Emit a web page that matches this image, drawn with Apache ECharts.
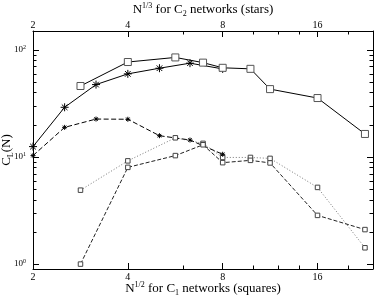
<!DOCTYPE html>
<html>
<head>
<meta charset="utf-8">
<script src="https://cdn.jsdelivr.net/npm/echarts@6/dist/echarts.min.js"></script>
<style>html,body{margin:0;padding:0;background:#fff}#c{width:374px;height:301px}</style>
</head>
<body>
<div id="c"></div>
<script>
// ---- data ----
const squareX = [2.83, 4, 5.66, 6.93, 8, 9.8, 11.31, 16, 22.63];
const squareUpper = [46, 77, 85, 76, 68, 66.5, 43, 35.5, 16.4];
const squareDashed = [1.0, 8.0, 10.3, 13.0, 8.85, 9.3, 8.8, 2.85, 2.1];
const squareDotted = [4.9, 9.2, 15.1, 13.4, 9.9, 9.9, 9.7, 5.2, 1.42];
const starX = [2, 2.52, 3.17, 4, 5.04, 6.3, 8];
const starUpper = [12.5, 29.1, 47.4, 59.7, 67.4, 75.1, 66.4];
const starLower = [10.3, 18.9, 22.6, 22.5, 15.8, 14.4, 10.6];
const xMin = 2, xMax = 24, yMin = 0.9, yMax = 150;
const xMinorTicks = [6, 10, 12, 14, 20];
const yMinorTicks = [2, 3, 4, 5, 6, 7, 8, 9, 20, 30, 40, 50, 60, 70, 80, 90];
const bottomTitle = ['N', '1/2', ' for C', '1', ' networks (squares)'];
const topTitle = ['N', '1/3', ' for C', '2', ' networks (stars)'];
const yTitle = ['C', 'L', '(N)'];

const FONT = 'Liberation Serif';
const chart = echarts.init(document.getElementById('c'), null, {renderer: 'canvas'});

const titleRich = {
  n: {fontFamily: FONT, fontSize: 13, lineHeight: 16, color: '#000', verticalAlign: 'middle'},
  sup: {fontFamily: FONT, fontSize: 8, lineHeight: 10, color: '#000', verticalAlign: 'top'},
  sub: {fontFamily: FONT, fontSize: 8, lineHeight: 10, color: '#000', verticalAlign: 'bottom'}
};
function mathName(p) {
  return '{n|' + p[0] + '}{sup|' + p[1] + '}{n|' + p[2] + '}{sub|' + p[3] + '}{n|' + p[4] + '}';
}
function isPow(v, b) {
  const e = Math.round(Math.log(v) / Math.log(b));
  return Math.abs(Math.pow(b, e) - v) < 1e-6 * v;
}
const xLabelFmt = v => isPow(v, 2) ? String(Math.round(v)) : '';
const yLabelFmt = v => {
  if (!isPow(v, 10)) return '';
  const e = Math.round(Math.log10(v));
  return '{b|10}{s|' + e + '}';
};

const starPath = 'path://M0,5L10,5M5,0L5,10M1.5,1.5L8.5,8.5M8.5,1.5L1.5,8.5';

function baseX(pos, name, nameGap, labelMargin) {
  return {
    type: 'log', logBase: 2, min: xMin, max: xMax, position: pos,
    name: name, nameLocation: 'middle', nameGap: nameGap, nameMoveOverlap: false,
    nameTextStyle: {rich: titleRich},
    axisLine: {show: true, lineStyle: {color: '#000', width: 1}},
    axisTick: {show: true, inside: true, length: 6, lineStyle: {color: '#000'}},
    axisLabel: {show: true, formatter: xLabelFmt, fontFamily: FONT, fontSize: 10, lineHeight: 11,
      color: '#000', margin: labelMargin, verticalAlign: 'middle'},
    splitLine: {show: false}
  };
}
function baseY(pos, showLabel) {
  return {
    type: 'log', logBase: 10, min: yMin, max: yMax, position: pos,
    axisLine: {show: true, lineStyle: {color: '#000', width: 1}},
    axisTick: {show: true, inside: true, length: 6, lineStyle: {color: '#000'}},
    axisLabel: {show: showLabel, formatter: yLabelFmt, margin: 7,
      rich: {
        b: {fontFamily: FONT, fontSize: 9, lineHeight: 11, color: '#000', verticalAlign: 'middle'},
        s: {fontFamily: FONT, fontSize: 6, lineHeight: 7, color: '#000', verticalAlign: 'top'}
      }},
    splitLine: {show: false}
  };
}

const yAxisLeft = baseY('left', true);
yAxisLeft.name = '{n|' + yTitle[0] + '}{sub|' + yTitle[1] + '}{n|' + yTitle[2] + '}';
yAxisLeft.nameLocation = 'middle';
yAxisLeft.nameGap = 18;
yAxisLeft.nameRotate = 90;
yAxisLeft.nameMoveOverlap = false;
yAxisLeft.nameTextStyle = {rich: titleRich};

function lineSeries(xs, ys, xIdx, opt) {
  return Object.assign({
    type: 'line', xAxisIndex: xIdx, yAxisIndex: 0, clip: false,
    data: xs.map((x, i) => [x, ys[i]]),
    animation: false, silent: true
  }, opt);
}

const option = {
  animation: false,
  backgroundColor: '#fff',
  grid: {left: 33, right: 1, top: 31, bottom: 32, containLabel: false, outerBoundsMode: 'none'},
  xAxis: [
    baseX('bottom', mathName(bottomTitle), 12, 8),
    baseX('top', mathName(topTitle), 13, 6)
  ],
  yAxis: [yAxisLeft, baseY('right', false)],
  series: [
    lineSeries(squareX, squareDotted, 0, {
      symbol: 'rect', symbolSize: 4.5,
      lineStyle: {color: '#777', width: 1, type: [1, 2]},
      itemStyle: {color: '#fff', borderColor: '#444', borderWidth: 1}
    }),
    lineSeries(squareX, squareDashed, 0, {
      symbol: 'rect', symbolSize: 4.5,
      lineStyle: {color: '#222', width: 1, type: [4, 2]},
      itemStyle: {color: '#fff', borderColor: '#444', borderWidth: 1}
    }),
    lineSeries(starX, starLower, 1, {
      symbol: starPath, symbolSize: 5,
      lineStyle: {color: '#000', width: 1, type: [5, 2.5]},
      itemStyle: {color: 'rgba(0,0,0,0)', borderColor: '#000', borderWidth: 1}
    }),
    lineSeries(starX, starUpper, 1, {
      symbol: starPath, symbolSize: 8,
      lineStyle: {color: '#000', width: 1},
      itemStyle: {color: 'rgba(0,0,0,0)', borderColor: '#000', borderWidth: 1}
    }),
    lineSeries(squareX, squareUpper, 0, {
      symbol: 'rect', symbolSize: 7,
      lineStyle: {color: '#000', width: 1},
      itemStyle: {color: '#fff', borderColor: '#555', borderWidth: 1}
    }),
    {
      type: 'custom', xAxisIndex: 0, yAxisIndex: 0, clip: false, silent: true, animation: false,
      data: yMinorTicks.map(v => [xMin, v]),
      renderItem: (params, api) => {
        const l = api.coord([xMin, api.value(1)]);
        const r = api.coord([xMax, api.value(1)]);
        const y = Math.round(l[1]) + 0.5;
        return {type: 'group', children: [
          {type: 'line', shape: {x1: l[0], y1: y, x2: l[0] + 3.5, y2: y}, style: {stroke: '#000', lineWidth: 1}},
          {type: 'line', shape: {x1: r[0], y1: y, x2: r[0] - 3.5, y2: y}, style: {stroke: '#000', lineWidth: 1}}
        ]};
      }
    },
    {
      type: 'custom', xAxisIndex: 0, yAxisIndex: 0, clip: false, silent: true, animation: false,
      data: xMinorTicks.map(v => [v, yMin]),
      renderItem: (params, api) => {
        const b = api.coord([api.value(0), yMin]);
        const t = api.coord([api.value(0), yMax]);
        const x = Math.round(b[0]) + 0.5;
        return {type: 'group', children: [
          {type: 'line', shape: {x1: x, y1: b[1], x2: x, y2: b[1] - 3.5}, style: {stroke: '#000', lineWidth: 1}},
          {type: 'line', shape: {x1: x, y1: t[1], x2: x, y2: t[1] + 3.5}, style: {stroke: '#000', lineWidth: 1}}
        ]};
      }
    }
  ]
};
chart.setOption(option);
</script>
</body>
</html>
